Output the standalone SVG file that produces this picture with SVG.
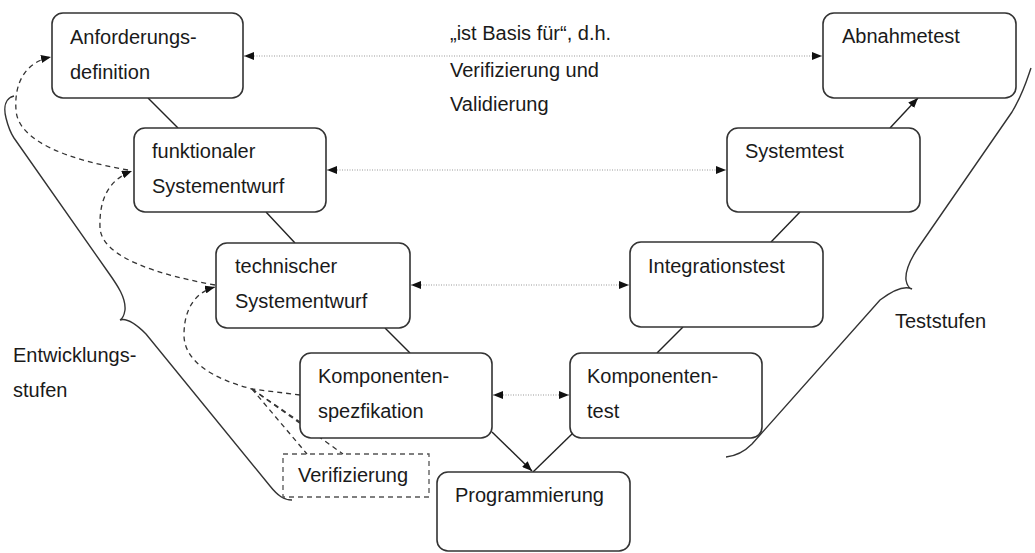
<svg xmlns="http://www.w3.org/2000/svg" width="1035" height="553" viewBox="0 0 1035 553">
  <defs>
    <marker id="arrow" viewBox="0 0 10 8" refX="10" refY="4" markerWidth="10" markerHeight="8" markerUnits="userSpaceOnUse" orient="auto-start-reverse">
      <path d="M0,0 L10,4 L0,8 z" fill="#111"/>
    </marker>
    <style>
      .box { fill: #fff; stroke: #333; stroke-width: 1.6; }
      .vbox { fill: none; stroke: #555; stroke-width: 1.3; stroke-dasharray: 5 4; }
      .lbl { font-family: "Liberation Sans", Arial, sans-serif; font-size: 20px; fill: #1a1a1a; }
      .solid { fill: none; stroke: #222; stroke-width: 1.4; }
      .dotted { fill: none; stroke: #999; stroke-width: 1.2; stroke-dasharray: 1 1.5; }
      .dashed { fill: none; stroke: #333; stroke-width: 1.3; stroke-dasharray: 5 4; }
      .brace { fill: none; stroke: #333; stroke-width: 1.4; }
    </style>
  </defs>
  <rect width="1035" height="553" fill="#fff"/>

  <!-- connectors -->
  <g id="connectors">
    <!-- V-shaped stage sequence -->
    <line class="solid" x1="148" y1="98" x2="178" y2="128"/>
    <line class="solid" x1="266" y1="212" x2="295" y2="243"/>
    <line class="solid" x1="385" y1="328" x2="410" y2="353"/>
    <line class="solid" x1="492" y1="432" x2="532" y2="471" marker-end="url(#arrow)"/>
    <line class="solid" x1="573" y1="433" x2="533" y2="472"/>
    <line class="solid" x1="657" y1="353" x2="683" y2="327"/>
    <line class="solid" x1="771" y1="242" x2="800" y2="212"/>
    <line class="solid" x1="890" y1="128" x2="918" y2="98" marker-end="url(#arrow)"/>

    <!-- "ist Basis fuer" relations -->
    <line class="dotted" x1="244" y1="56" x2="822" y2="56" marker-start="url(#arrow)" marker-end="url(#arrow)"/>
    <line class="dotted" x1="327" y1="170" x2="726" y2="170" marker-start="url(#arrow)" marker-end="url(#arrow)"/>
    <line class="dotted" x1="411" y1="285" x2="629" y2="285" marker-start="url(#arrow)" marker-end="url(#arrow)"/>
    <line class="dotted" x1="493" y1="395" x2="569" y2="395" marker-start="url(#arrow)" marker-end="url(#arrow)"/>

    <!-- verification back-references -->
    <path class="dashed" d="M128,170 C70,160 18,142 16,110 C14,82 26,62 51,57" marker-end="url(#arrow)"/>
    <path class="dashed" d="M215,285 C160,275 102,258 100,228 C99,200 108,180 132,171" marker-end="url(#arrow)"/>
    <path class="dashed" d="M300,395 L252,389 C210,378 184,360 184,335 C184,308 196,292 215,287" marker-end="url(#arrow)"/>
    <line class="dashed" x1="252" y1="389" x2="307" y2="454"/>
    <line class="dashed" x1="252" y1="389" x2="343" y2="454"/>
    <line class="dashed" x1="252" y1="389" x2="300" y2="422"/>

    <!-- braces -->
    <path class="brace" d="M14,96 C6,98 3,106 6,118 C8,126 10,132 14,138 L108,272 C118,286 126,298 125,310 C124,316 122,319 120,320 C126,318 134,322 146,334 L270,486 C278,496 284,500 292,500"/>
    <path class="brace" d="M1031,68 C1028,76 1024,92 1012,112 L918,248 C910,260 905,270 906,280 C907,286 909,288 912,289 C906,286 896,288 880,300 L752,444 C744,452 736,456 726,457"/>
  </g>

  <!-- development stages -->
  <g id="anforderungsdefinition">
    <rect class="box" x="52" y="13" width="191" height="85" rx="11"/>
    <text class="lbl" x="70" y="44">Anforderungs-</text>
    <text class="lbl" x="70" y="79">definition</text>
  </g>
  <g id="funktionaler-systementwurf">
    <rect class="box" x="134" y="128" width="192" height="84" rx="11"/>
    <text class="lbl" x="152" y="158">funktionaler</text>
    <text class="lbl" x="152" y="193">Systementwurf</text>
  </g>
  <g id="technischer-systementwurf">
    <rect class="box" x="216" y="243" width="194" height="85" rx="11"/>
    <text class="lbl" x="235" y="273">technischer</text>
    <text class="lbl" x="235" y="308">Systementwurf</text>
  </g>
  <g id="komponentenspezifikation">
    <rect class="box" x="300" y="353" width="192" height="85" rx="11"/>
    <text class="lbl" x="318" y="383">Komponenten-</text>
    <text class="lbl" x="318" y="418">spezfikation</text>
  </g>
  <g id="programmierung">
    <rect class="box" x="437" y="472" width="193" height="79" rx="11"/>
    <text class="lbl" x="455" y="502">Programmierung</text>
  </g>

  <!-- test stages -->
  <g id="komponententest">
    <rect class="box" x="570" y="353" width="192" height="85" rx="11"/>
    <text class="lbl" x="587" y="383">Komponenten-</text>
    <text class="lbl" x="587" y="418">test</text>
  </g>
  <g id="integrationstest">
    <rect class="box" x="630" y="242" width="193" height="85" rx="11"/>
    <text class="lbl" x="648" y="273">Integrationstest</text>
  </g>
  <g id="systemtest">
    <rect class="box" x="727" y="128" width="193" height="84" rx="11"/>
    <text class="lbl" x="745" y="158">Systemtest</text>
  </g>
  <g id="abnahmetest">
    <rect class="box" x="823" y="13" width="193" height="85" rx="11"/>
    <text class="lbl" x="842" y="43">Abnahmetest</text>
  </g>

  <!-- labels -->
  <g id="verifizierung">
    <rect class="vbox" x="283" y="454" width="146" height="43"/>
    <text class="lbl" x="298" y="482">Verifizierung</text>
  </g>
  <g id="basis-label">
    <text class="lbl" x="450" y="40">„ist Basis für“, d.h.</text>
    <text class="lbl" x="450" y="77">Verifizierung und</text>
    <text class="lbl" x="450" y="111">Validierung</text>
  </g>
  <g id="entwicklungsstufen">
    <text class="lbl" x="13" y="362">Entwicklungs-</text>
    <text class="lbl" x="13" y="397">stufen</text>
  </g>
  <g id="teststufen">
    <text class="lbl" x="895" y="328">Teststufen</text>
  </g>
</svg>
